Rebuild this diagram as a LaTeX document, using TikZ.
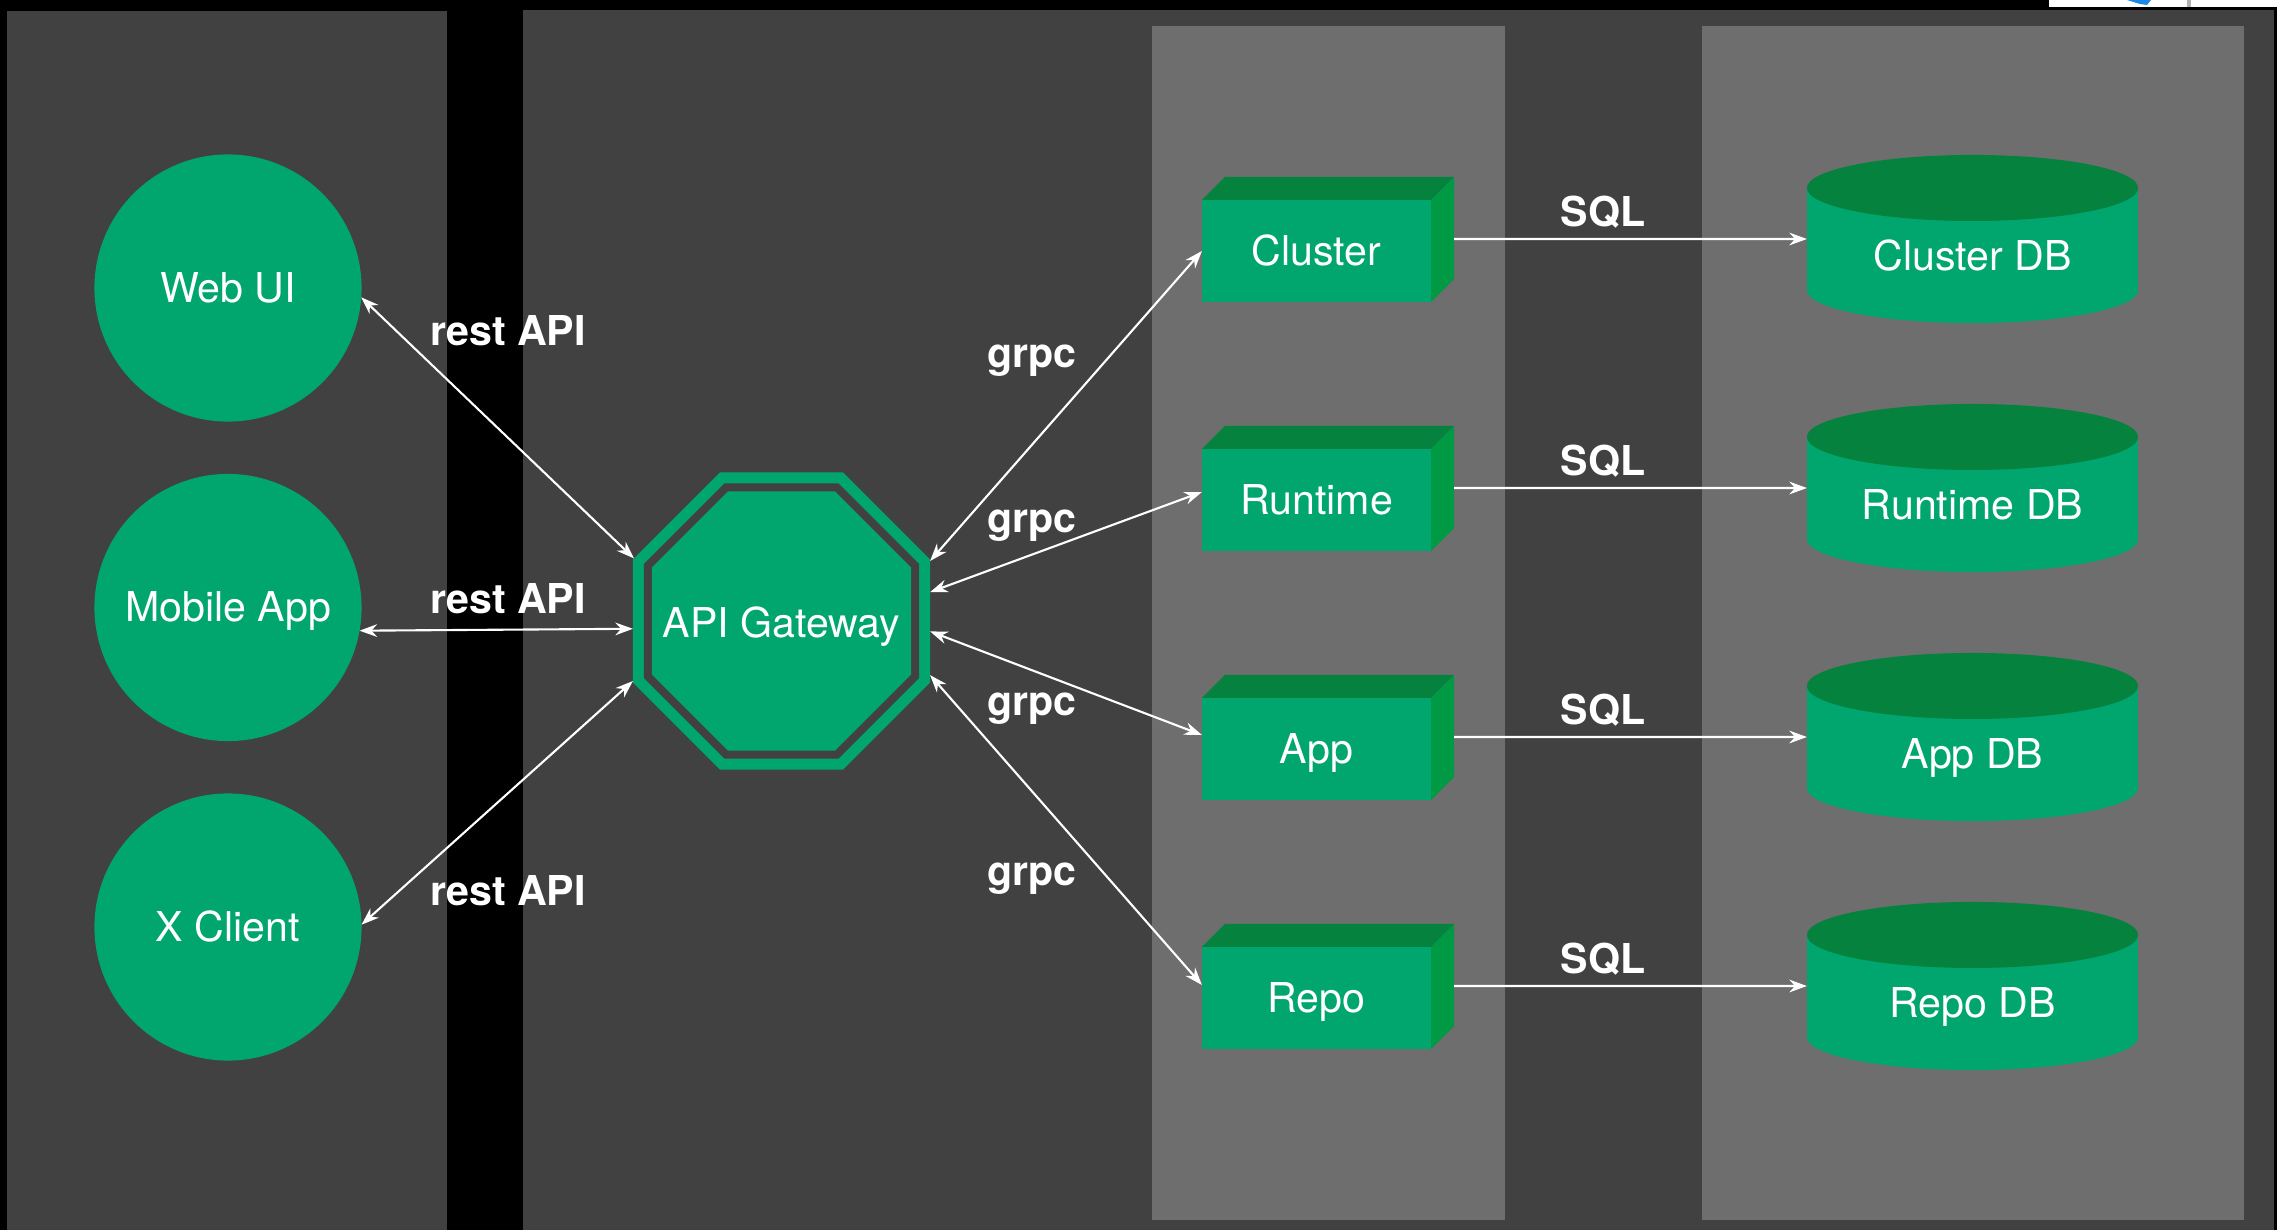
\documentclass[tikz,border=0pt]{standalone}
\usepackage{fontspec}
\setmainfont{TeX Gyre Heros}
\usetikzlibrary{shapes.geometric,arrows.meta,calc}
\definecolor{bgdark}{RGB}{65,65,65}
\definecolor{bglight}{RGB}{110,110,110}
\definecolor{gmain}{RGB}{0,166,110}
\definecolor{gtop}{RGB}{4,130,62}
\definecolor{gside}{RGB}{0,153,68}
\definecolor{marker}{RGB}{30,136,229}
\begin{document}
\begin{tikzpicture}[x=0.01cm,y=-0.01cm,
  txt/.style={text=white,font=\fontsize{11.7}{14}\selectfont,inner sep=0pt,
    text height=0.285cm,text depth=0pt},
  lbl/.style={text=white,font=\fontsize{11.7}{14}\selectfont\bfseries,inner sep=0pt,anchor=base},
  client/.style={circle,fill=gmain,minimum size=2.67cm,inner sep=0pt,outer sep=0pt,txt},
  svcfront/.style={rectangle,fill=gmain,minimum width=2.29cm,minimum height=1.02cm,
    inner sep=0pt,outer sep=0pt,txt},
  dbbody/.style={rectangle,minimum width=3.31cm,minimum height=1.02cm,inner sep=0pt,outer sep=0pt},
  oct/.style={regular polygon,regular polygon sides=8,inner sep=0pt,outer sep=0pt},
  link/.style={draw=white,line width=0.6pt,{Stealth[length=5pt,width=3.6pt]}-{Stealth[length=5pt,width=3.6pt]}},
  sqllink/.style={draw=white,line width=0.6pt,-{Stealth[length=5pt,width=3.6pt]}}
]
\useasboundingbox (0,0) rectangle (2277,1230);

% backdrop and lanes
\fill[black] (0,0) rectangle (2277,1230);
\fill[bgdark] (7,11) rectangle (447,1230);
\fill[bgdark] (523,10) rectangle (2274,1230);
\fill[bglight] (1152,26) rectangle (1505,1220);
\fill[bglight] (1702,26) rectangle (2244,1220);
% strip along the top right edge
\fill[white] (2049,0) rectangle (2277,7);
\fill[black!30] (2187,0) rectangle (2191,7);
\fill[marker] (2127,0) -- (2151,0) -- (2147,5) -- (2140,4) -- cycle;

% clients
\node[client] (web) at (228,288) {Web UI};
\node[client] (mobile) at (228,607.5) {Mobile App};
\node[client] (xclient) at (228,927) {X Client};

% gateway: outer ring, gap, core
\node[oct,fill=gmain,minimum size=3.215cm] (gw) at (781.5,621) {};
\node[oct,fill=bgdark,minimum size=2.977cm] (gwgap) at (gw.center) {};
\node[oct,fill=gmain,minimum size=2.803cm] (gwcore) at (gw.center) {};
\node[txt] (gwname) at (781.5,623) {API Gateway};

% services (boxes)
\foreach \n/\t/\y in {cluster/Cluster/251, runtime/Runtime/500, app/App/749, repo/Repo/998}{
  \node[svcfront] (\n) at (1316.5,\y) {\t};
  \fill[gtop] (\n.north west) -- ++(23,-23) -- ($(\n.north east)+(23,-23)$) -- (\n.north east) -- cycle;
  \fill[gside] (\n.north east) -- ++(23,-23) -- ($(\n.south east)+(23,-23)$) -- (\n.south east) -- cycle;
}

% databases (cylinders)
\foreach \n/\t/\y in {cdb/Cluster DB/239, rdb/Runtime DB/488, adb/App DB/737, pdb/Repo DB/986}{
  \node[dbbody] (\n) at (1972.5,\y) {};
  \fill[gmain] (\n.north west) rectangle (\n.south east);
  \fill[gmain] (\n.south) ellipse [x radius=1.655cm, y radius=0.33cm];
  \fill[gtop] (\n.north) ellipse [x radius=1.655cm, y radius=0.33cm];
  \node[txt] (\n name) at (1972.5,\y+17) {\t};
}

% client links
\draw[link] (web.-4) -- (gw.157.5);
\draw[link] (mobile.-10) -- (gw.183.5);
\draw[link] (xclient.1) -- (gw.202.5);
\node[lbl] (restA) at (508,345) {rest API};
\node[lbl] (restB) at (508,613) {rest API};
\node[lbl] (restC) at (508,905) {rest API};

% service links
\draw[link] (gw.22.5) -- (cluster.west);
\draw[link] (gw.11) -- ([yshift=0.08cm]runtime.west);
\draw[link] (gw.-4.5) -- ([yshift=0.14cm]app.west);
\draw[link] (gw.-20.5) -- ([yshift=0.13cm]repo.west);
\node[lbl] (grpcA) at (1032,367) {grpc};
\node[lbl] (grpcB) at (1032,532) {grpc};
\node[lbl] (grpcC) at (1032,715) {grpc};
\node[lbl] (grpcD) at (1032,885) {grpc};

% storage links
\draw[sqllink] ([xshift=0.23cm,yshift=0.12cm]cluster.east) -- (cdb.west);
\draw[sqllink] ([xshift=0.23cm,yshift=0.12cm]runtime.east) -- (rdb.west);
\draw[sqllink] ([xshift=0.23cm,yshift=0.12cm]app.east) -- (adb.west);
\draw[sqllink] ([xshift=0.23cm,yshift=0.12cm]repo.east) -- (pdb.west);
\node[lbl] (sqlA) at (1603,226) {SQL};
\node[lbl] (sqlB) at (1603,475) {SQL};
\node[lbl] (sqlC) at (1603,724) {SQL};
\node[lbl] (sqlD) at (1603,973) {SQL};
\end{tikzpicture}
\end{document}
